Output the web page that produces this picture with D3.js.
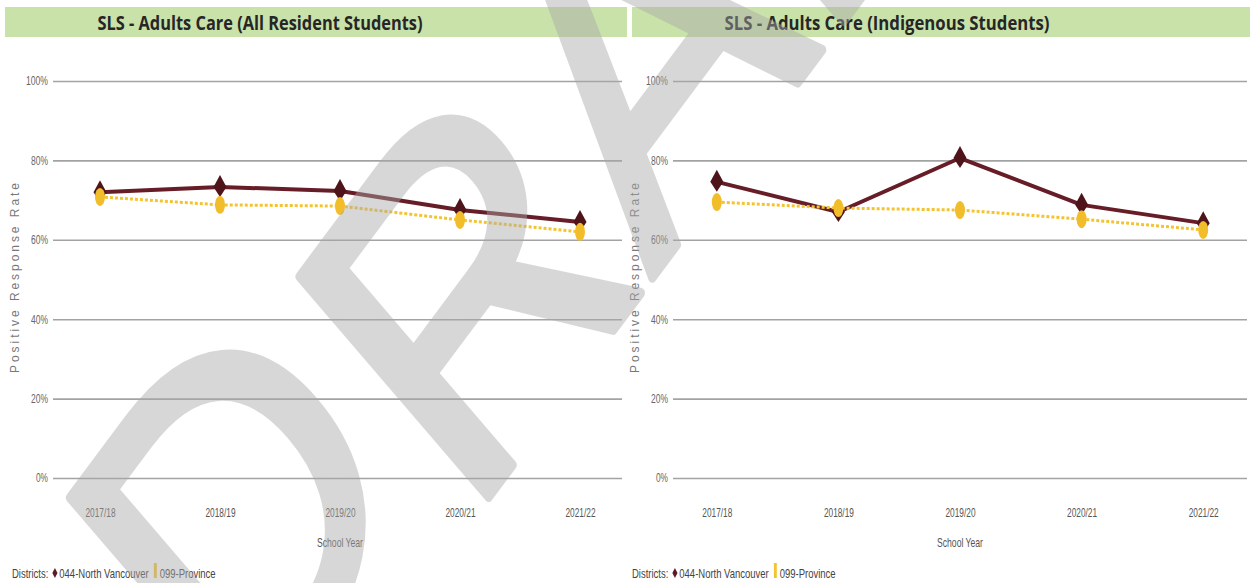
<!DOCTYPE html>
<html>
<head>
<meta charset="utf-8">
<script src="https://cdn.jsdelivr.net/npm/d3@7"></script>
<style>
  body { margin: 0; background: #fff; }
  svg { display: block; }
</style>
</head>
<body>
<svg id="chart" width="1250" height="583"></svg>
<script>
// data
var years = ["2017/18", "2018/19", "2019/20", "2020/21", "2021/22"];
var yTicks = [0, 20, 40, 60, 80, 100];
var allNorthVan = [72.0, 73.3, 72.3, 67.5, 64.5];
var allProvince = [70.8, 68.8, 68.5, 65.0, 62.0];
var indNorthVan = [74.6, 67.0, 80.6, 68.8, 64.2];
var indProvince = [69.5, 68.0, 67.5, 65.2, 62.5];
var titles = ["SLS - Adults Care (All Resident Students)", "SLS - Adults Care (Indigenous Students)"];
var legendNames = ["044-North Vancouver", "099-Province"];

var maroon = "#5e1a22", gold = "#f4c430";
var narrow = "'Liberation Sans Narrow', 'Liberation Sans', sans-serif";
var svg = d3.select("#chart");

// one panel per population
var panels = [
  {title: titles[0], nv: allNorthVan, pr: allProvince, bar: [5, 627], xr: [40, 640], grid: [53, 622], off: 0},
  {title: titles[1], nv: indNorthVan, pr: indProvince, bar: [632, 1250], xr: [656, 1264], grid: [673, 1247], off: 620}
];

var yScale = d3.scaleLinear().domain([0, 100]).range([478, 81]);

panels.forEach(function(p) {
  var g = svg.append("g");

  // title bar
  g.append("rect")
    .attr("x", p.bar[0]).attr("y", 7)
    .attr("width", p.bar[1] - p.bar[0]).attr("height", 30)
    .attr("fill", "#c9e2aa");
  g.append("text")
    .attr("x", p.bar[0] + 255).attr("y", 30)
    .attr("text-anchor", "middle")
    .attr("textLength", 325).attr("lengthAdjust", "spacingAndGlyphs")
    .style("font", "bold 20px 'Open Sans', sans-serif")
    .attr("fill", "#262626")
    .text(p.title);

  var xScale = d3.scalePoint().domain(years).range(p.xr).padding(0.5);

  // y axis + gridlines
  var yAxis = d3.axisLeft(yScale)
    .tickValues(yTicks)
    .tickSize(-(p.grid[1] - p.grid[0]))
    .tickPadding(5)
    .tickFormat(function(d) { return d + "%"; });
  var ya = g.append("g")
    .attr("transform", "translate(" + p.grid[0] + ",0)")
    .call(yAxis);
  ya.select(".domain").remove();
  ya.selectAll("line").attr("stroke", "#a3a3a3").attr("stroke-width", 1.6);
  ya.selectAll("text")
    .attr("fill", "#666")
    .attr("textLength", function(d) { return String(d).length * 5 + 7; })
    .attr("lengthAdjust", "spacingAndGlyphs")
    .style("font", "12px " + narrow);

  // x axis labels
  var xAxis = d3.axisBottom(xScale).tickSize(0).tickPadding(0);
  var xa = g.append("g")
    .attr("transform", "translate(0,508)")
    .call(xAxis);
  xa.select(".domain").remove();
  xa.selectAll("text")
    .attr("fill", "#555")
    .attr("textLength", 30).attr("lengthAdjust", "spacingAndGlyphs")
    .style("font", "13px " + narrow);

  g.append("text")
    .attr("x", xScale(years[2])).attr("y", 547)
    .attr("text-anchor", "middle")
    .attr("textLength", 46).attr("lengthAdjust", "spacingAndGlyphs")
    .attr("fill", "#555")
    .style("font", "13px " + narrow)
    .text("School Year");

  g.append("text")
    .attr("transform", "translate(" + (p.off + 19) + ",278) rotate(-90)")
    .attr("text-anchor", "middle")
    .attr("textLength", 190).attr("lengthAdjust", "spacing")
    .attr("fill", "#777")
    .style("font", "12px 'Liberation Sans', sans-serif")
    .text("Positive Response Rate");

  // North Vancouver series
  var line = d3.line()
    .x(function(d, i) { return xScale(years[i]); })
    .y(function(d) { return yScale(d); });

  g.append("path")
    .datum(p.nv)
    .attr("d", line)
    .attr("fill", "none")
    .attr("stroke", "#661d27")
    .attr("stroke-width", 4)
    .attr("stroke-linejoin", "round");

  g.selectAll(".nv")
    .data(p.nv)
    .enter().append("path")
    .attr("class", "nv")
    .attr("transform", function(d, i) { return "translate(" + xScale(years[i]) + "," + yScale(d) + ")"; })
    .attr("d", "M0,-12 L6.5,0 L0,10 L-6.5,0 Z")
    .attr("fill", "#4e1419");

  // Province series (dotted, drawn over)
  g.append("path")
    .datum(p.pr)
    .attr("d", line)
    .attr("fill", "none")
    .attr("stroke", gold)
    .attr("stroke-width", 3)
    .attr("stroke-dasharray", "3,2");

  g.selectAll(".pr")
    .data(p.pr)
    .enter().append("ellipse")
    .attr("class", "pr")
    .attr("cx", function(d, i) { return xScale(years[i]); })
    .attr("cy", function(d) { return yScale(d); })
    .attr("rx", 5).attr("ry", 9)
    .attr("fill", "#f2bd2a");

  // legend, squeezed sideways like the rest of the picture
  var lg = g.append("g")
    .attr("transform", "translate(" + (p.off + 12) + ",578) scale(0.73,1)")
    .style("font", "13px " + narrow)
    .attr("fill", "#444");
  var cx = 0;
  var t1 = lg.append("text").attr("x", cx).text("Districts:");
  cx += t1.node().getComputedTextLength() + 6;
  lg.append("path")
    .attr("d", "M" + (cx + 3) + ",-10 l3.5,5 l-3.5,5 l-3.5,-5 Z")
    .attr("fill", maroon);
  cx += 9;
  var t2 = lg.append("text").attr("x", cx).text(legendNames[0]);
  cx += t2.node().getComputedTextLength() + 7;
  lg.append("rect")
    .attr("x", cx).attr("y", -15).attr("width", 4).attr("height", 15)
    .attr("fill", gold);
  cx += 8;
  lg.append("text").attr("x", cx).text(legendNames[1]);
});

// DRAFT watermark laid over everything (the source image is squeezed sideways)
svg.append("g")
  .attr("opacity", 0.45)
  .append("text")
  .attr("transform", "translate(253,813) scale(0.8,1) rotate(-47)")
  .attr("dx", "36 18 -2 0 0")
  .attr("dy", "-59 59 0 0 0")
  .attr("fill", "#a8a8a8")
  .attr("stroke", "#a8a8a8")
  .attr("stroke-width", 10)
  .attr("stroke-linejoin", "round")
  .style("font", "470px 'Liberation Sans', sans-serif")
  .text("DRAFT");
</script>
</body>
</html>
